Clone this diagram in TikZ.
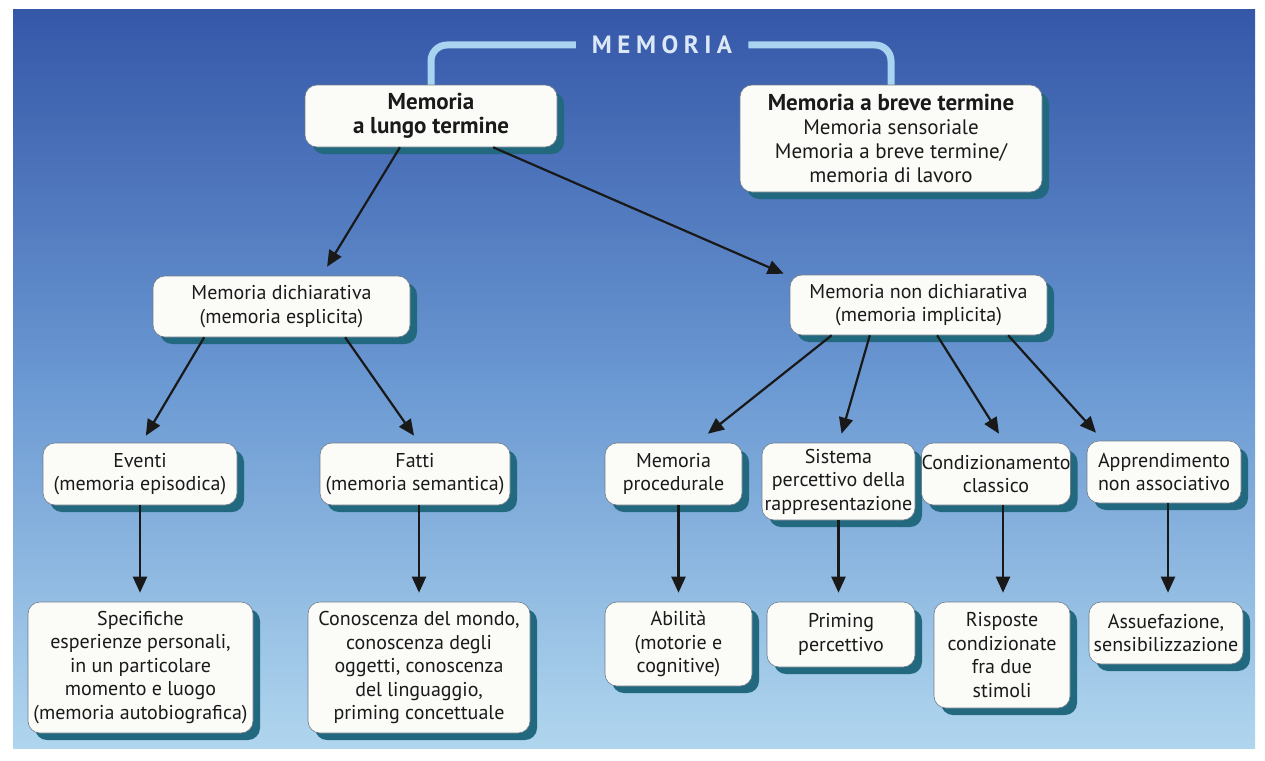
\documentclass[tikz,border=0pt]{standalone}
\usepackage{fontspec}
\setmainfont{PT Sans}
\newfontfamily\ttlfont[LetterSpace=22]{PT Sans}
\usetikzlibrary{arrows.meta,shadows,calc}
\definecolor{bgtop}{HTML}{3557A8}
\definecolor{bgmid}{HTML}{6A98D2}
\definecolor{bgbot}{HTML}{B0D6EE}
\definecolor{shadowc}{HTML}{22687F}
\definecolor{boxfill}{HTML}{FBFBF8}
\definecolor{boxline}{HTML}{6F7C89}
\definecolor{brk}{HTML}{A9D3EF}
\definecolor{ttl}{HTML}{DCE8F6}
\definecolor{txt}{HTML}{1A1A1A}
\begin{document}
\begin{tikzpicture}[x=1pt,y=-1pt,
  box/.style={draw=boxline,line width=0.6pt,fill=boxfill,rounded corners=12pt,
    align=center,inner sep=0pt,text=txt,font=\fontsize{20}{23.5}\selectfont,
    drop shadow={shadow xshift=7pt,shadow yshift=-7pt,fill=shadowc,opacity=1}},
  sz/.style 2 args={minimum width=#1pt,minimum height=#2pt},
  arr/.style={line width=2.2pt,draw=black!90,-{Triangle[length=16pt,width=14pt]}},
  brack/.style={draw=brk,line width=7pt,rounded corners=16pt}
]
\useasboundingbox (0,0) rectangle (1265,760);
\fill[white] (0,0) rectangle (1265,760);
\shade[top color=bgtop, bottom color=bgbot, middle color=bgmid] (13,10) rectangle (1255,748);

% title
\node[font=\ttlfont\bfseries\fontsize{25}{25}\selectfont, text=ttl, inner xsep=16pt, inner ysep=2pt] (title) at (662,45) {MEMORIA};

% bracket from title to the two top boxes
\coordinate (lt) at (431,95);
\coordinate (rt) at (891,95);
\draw[brack] (lt) |- (title.west);
\draw[brack] (title.east) -| (rt);

% top boxes
\node[box, sz={252}{62}, font=\bfseries\fontsize{23}{24}\selectfont] (lungo) at (431,116) {Memoria\\a lungo termine};
\node[box, sz={302}{107}, font=\fontsize{21}{24}\selectfont] (breve) at (891,138.5) {\textbf{\fontsize{23}{24}\selectfont Memoria a breve termine}\\Memoria sensoriale\\Memoria a breve termine/\\memoria di lavoro};

% second level
\node[box, sz={257}{61}] (dich) at (281.5,306.5) {Memoria dichiarativa\\(memoria esplicita)};
\node[box, sz={257}{60}] (nondich) at (918.5,305) {Memoria non dichiarativa\\(memoria implicita)};

% third level
\node[box, sz={194}{62}] (eventi) at (140,474) {Eventi\\(memoria episodica)};
\node[box, sz={190}{62}] (fatti) at (415,474) {Fatti\\(memoria semantica)};
\node[box, sz={137}{62}] (proc) at (673.5,474) {Memoria\\procedurale};
\node[box, sz={153}{77}] (sist) at (838.5,481.5) {Sistema\\percettivo della\\rappresentazione};
\node[box, sz={148}{62}] (cond) at (996,474) {Condizionamento\\classico};
\node[box, sz={154}{62}] (appr) at (1164,472) {Apprendimento\\non associativo};

% fourth level
\node[box, sz={225}{131}] (spec) at (140.5,667.5) {Specifiche\\esperienze personali,\\in un particolare\\momento e luogo\\(memoria autobiografica)};
\node[box, sz={222}{131}] (conosc) at (419,667.5) {Conoscenza del mondo,\\conoscenza degli\\oggetti, conoscenza\\del linguaggio,\\priming concettuale};
\node[box, sz={147}{84}] (abil) at (678.5,644) {Abilità\\(motorie e\\cognitive)};
\node[box, sz={148}{65}] (prim) at (841,634.5) {Priming\\percettivo};
\node[box, sz={136}{106}] (risp) at (1002,655) {Risposte\\condizionate\\fra due\\stimoli};
\node[box, sz={154}{62}] (assu) at (1166,633) {Assuefazione,\\sensibilizzazione};

% arrows
\draw[arr] ($(lungo.south west)!.377!(lungo.south east)$) -- ($(dich.north west)!.677!(dich.north east)+(0,-9)$);
\draw[arr] ($(lungo.south west)!.746!(lungo.south east)$) -- ($(nondich.north west)+(-6,-1)$);
\draw[arr] ($(dich.south west)!.2!(dich.south east)$) -- ($(eventi.north west)!.53!(eventi.north east)+(0,-7)$);
\draw[arr] ($(dich.south west)!.747!(dich.south east)$) -- ($(fatti.north west)!.495!(fatti.north east)+(0,-7)$);
\draw[arr] ($(nondich.south west)!.163!(nondich.south east)$) -- ($(proc.north west)!.75!(proc.north east)+(0,-9)$);
\draw[arr] ($(nondich.south west)!.311!(nondich.south east)$) -- ($(sist.north west)!.52!(sist.north east)+(0,-9)$);
\draw[arr] ($(nondich.south west)!.572!(nondich.south east)$) -- ($(cond.north west)!.52!(cond.north east)+(0,-9)$);
\draw[arr] ($(nondich.south west)!.848!(nondich.south east)$) -- ($(appr.north west)!.06!(appr.north east)+(0,-8)$);

\draw[arr] (eventi.south) -- ($(spec.north -| eventi.south)+(0,-9)$);
\draw[arr] (conosc.north |- fatti.south) -- ($(conosc.north)+(0,-9)$);
\draw[arr] (abil.north |- proc.south) -- ($(abil.north)+(0,-9)$);
\draw[arr] (sist.south) -- ($(prim.north -| sist.south)+(0,-9)$);
\draw[arr] ($(cond.south)+(7,0)$) -- ($(risp.north -| cond.south)+(7,-9)$);
\draw[arr] ($(appr.south)+(4,0)$) -- ($(assu.north -| appr.south)+(4,-9)$);
\end{tikzpicture}
\end{document}
